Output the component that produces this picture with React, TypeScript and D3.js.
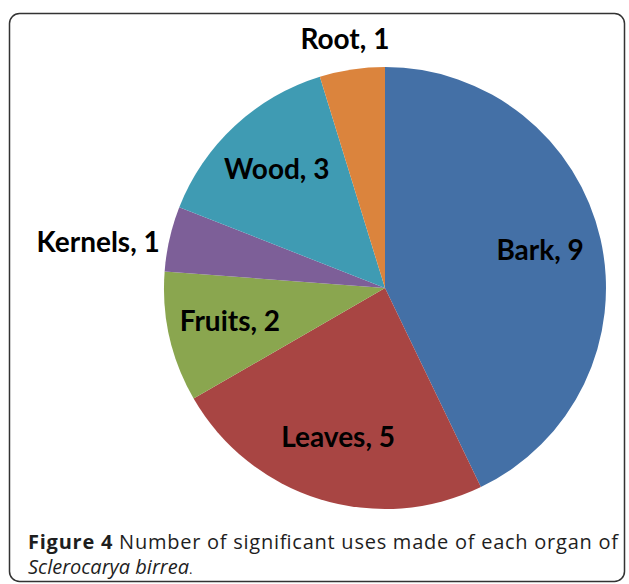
import React from 'react';
import * as d3 from 'd3';

const organs = ['Bark', 'Leaves', 'Fruits', 'Kernels', 'Wood', 'Root'];
const uses = [9, 5, 2, 1, 3, 1];
const colors = ['#4470A6', '#A84543', '#8AA64F', '#7D5F98', '#3F9BB3', '#DB843D'];
// labels that Excel pushed outside the pie
const outside = ['Kernels', 'Root'];

const width = 629;
const height = 584;
const cx = 385;
const cy = 288;
const radius = 221;

export default function App() {
  const pie = d3.pie<number>().sort(null).value(d => d);
  const arcs = pie(uses);
  const arc = d3.arc<d3.PieArcDatum<number>>().innerRadius(0).outerRadius(radius);
  const labelArc = d3.arc<d3.PieArcDatum<number>>().innerRadius(radius * 0.72).outerRadius(radius * 0.72);

  const labelFont = 'Lato, "Open Sans", sans-serif';

  return (
    <svg width={width} height={height} style={{ position: 'absolute', left: 0, top: 0 }}>
      <rect x={9.5} y={13.5} width={width - 14} height={568} rx={10} fill="white" stroke="#333" strokeWidth={1.5} />
      <g transform={`translate(${cx},${cy})`}>
        {arcs.map((a, i) => (
          <path key={organs[i]} d={arc(a) || ''} fill={colors[i]} />
        ))}
        {arcs.map((a, i) => {
          const name = organs[i];
          const text = `${name}, ${uses[i]}`;
          const mid = (a.startAngle + a.endAngle) / 2;
          if (outside.includes(name)) {
            const r = name === 'Root' ? radius + 28 : radius + 8;
            const x = Math.sin(mid) * r;
            const y = -Math.cos(mid) * r;
            return (
              <text key={name} x={name === 'Root' ? x - 3 : x - 2} y={name === 'Root' ? y : y + 8}
                textAnchor={name === 'Root' ? 'middle' : 'end'} dominantBaseline="middle"
                fontFamily={labelFont} fontWeight="bold" fontSize={28} fill="#000">
                {text}
              </text>
            );
          }
          const [x, y] = labelArc.centroid(a);
          return (
            <text key={name} x={x} y={y} textAnchor="middle" dominantBaseline="middle"
              fontFamily={labelFont} fontWeight="bold" fontSize={28} fill="#000">
              {text}
            </text>
          );
        })}
      </g>
      <text x={28} y={549} fontFamily='"Open Sans", sans-serif' fontSize={20} fill="#1e1e1e"
        textLength={590} lengthAdjust="spacing">
        <tspan fontWeight="bold">Figure 4</tspan>
        <tspan> Number of significant uses made of each organ of</tspan>
      </text>
      <text x={28} y={574} fontFamily='"Open Sans", sans-serif' fontSize={20} fill="#1e1e1e">
        <tspan fontStyle="italic">Sclerocarya birrea</tspan>
        <tspan fontSize={13}>.</tspan>
      </text>
    </svg>
  );
}
